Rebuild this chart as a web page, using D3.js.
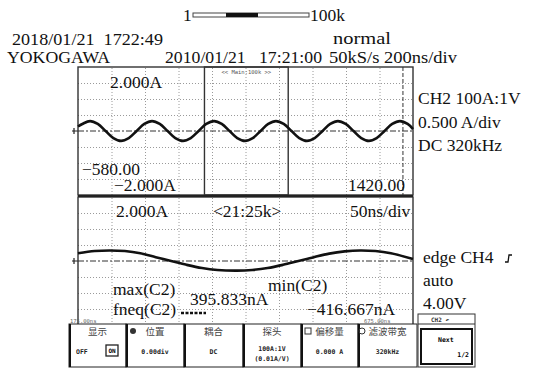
<!DOCTYPE html>
<html>
<head>
<meta charset="utf-8">
<script src="https://cdn.jsdelivr.net/npm/d3@7"></script>
<style>
  html, body { margin: 0; padding: 0; background: #fff; }
  svg { display: block; }
  text { white-space: pre; }
</style>
</head>
<body>
<div id="chart"></div>
<script>
// Main window waveform (CH2), time in ns, current in A
const mainTime = [-580, -554, -508, -462, -415, -369, -323, -277, -230, -184, -138, -92, -45, 1, 47, 93, 140, 186, 232, 278, 325, 371, 417, 463, 510, 556, 602, 648, 695, 741, 787, 833, 880, 926, 972, 1018, 1065, 1111, 1157, 1203, 1250, 1296, 1342, 1388, 1420];
const mainCurrent = [0.14, 0.22, 0.31, 0.22, 0.0, -0.22, -0.31, -0.22, 0.0, 0.22, 0.31, 0.22, 0.0, -0.22, -0.31, -0.22, 0.0, 0.22, 0.31, 0.22, 0.0, -0.22, -0.31, -0.22, 0.0, 0.22, 0.31, 0.22, 0.0, -0.22, -0.31, -0.22, 0.0, 0.22, 0.31, 0.22, 0.0, -0.22, -0.31, -0.22, 0.0, 0.22, 0.31, 0.22, 0.06];

// Zoom window waveform
const zoomTime = [175, 200, 222, 245, 268, 291, 314, 337, 360, 383, 412, 435, 458, 481, 504, 527, 550, 573, 596, 619, 642, 675];
const zoomCurrent = [0.24, 0.31, 0.33, 0.31, 0.24, 0.12, 0.0, -0.12, -0.22, -0.28, -0.30, -0.28, -0.22, -0.12, 0.0, 0.12, 0.23, 0.30, 0.33, 0.31, 0.24, 0.06];

const mainRange = [-580, 1420];     // 200 ns/div
const zoomRange = [175, 675];       // 50 ns/div
const ampRange = [-2, 2];           // 0.5 A/div
const cursorTime = 1360;

const softKeys = [
  { title: '显示', lines: ['OFF'] },
  { title: '位置', lines: ['0.00div'] },
  { title: '耦合', lines: ['DC'] },
  { title: '探头', lines: ['100A:1V', '(0.01A/V)'] },
  { title: '偏移量', lines: ['0.000 A'] },
  { title: '滤波带宽', lines: ['320kHz'] }
];

const W = 534, H = 370;
const serif = '"Liberation Serif", "DejaVu Serif", serif';
const mono = '"DejaVu Sans Mono", monospace';
const ink = '#111';

const svg = d3.select('#chart').append('svg')
  .attr('width', W).attr('height', H)
  .attr('viewBox', `0 0 ${W} ${H}`);

svg.append('rect').attr('width', W).attr('height', H).attr('fill', '#fff');

const plotLeft = 78, plotRight = 413;
const topPane = { y0: 67, y1: 195 };
const botPane = { y0: 197, y1: 325 };

const xMain = d3.scaleLinear().domain(mainRange).range([plotLeft, plotRight]);
const xZoom = d3.scaleLinear().domain(zoomRange).range([plotLeft, plotRight]);
const yTop = d3.scaleLinear().domain(ampRange).range([topPane.y1, topPane.y0]);
const yBot = d3.scaleLinear().domain(ampRange).range([botPane.y1, botPane.y0]);

function drawPane(x, y, pane) {
  const g = svg.append('g');
  const h = pane.y1 - pane.y0;
  const w = plotRight - plotLeft;
  const step = (x.domain()[1] - x.domain()[0]) / 10;

  // vertical dotted grid
  g.append('g')
    .attr('transform', `translate(0,${pane.y1})`)
    .call(d3.axisBottom(x).tickValues(d3.range(1, 10).map(i => x.domain()[0] + i * step))
      .tickSize(-h).tickFormat(''))
    .call(s => s.select('.domain').remove())
    .call(s => s.selectAll('line').attr('stroke', '#9a9a9a').attr('stroke-dasharray', '1,2'));

  // horizontal dotted grid
  g.append('g')
    .attr('transform', `translate(${plotLeft},0)`)
    .call(d3.axisLeft(y).tickValues([-1.5, -1, -0.5, 0.5, 1, 1.5]).tickSize(-w).tickFormat(''))
    .call(s => s.select('.domain').remove())
    .call(s => s.selectAll('line').attr('stroke', '#9a9a9a').attr('stroke-dasharray', '1,2'));

  // centre line
  g.append('line')
    .attr('x1', plotLeft).attr('x2', plotRight)
    .attr('y1', y(0)).attr('y2', y(0))
    .attr('stroke', '#333').attr('stroke-width', 1)
    .attr('stroke-dasharray', '6,2,2,2');

  // ground marker
  g.append('path')
    .attr('d', `M${plotLeft - 6},${y(0)}h6M${plotLeft - 4},${y(0) - 3}v6`)
    .attr('stroke', '#222').attr('stroke-width', 1.2);

  g.append('rect')
    .attr('x', plotLeft).attr('y', pane.y0)
    .attr('width', w).attr('height', h)
    .attr('fill', 'none').attr('stroke', '#333').attr('stroke-width', 1.4);
  return g;
}

const topG = drawPane(xMain, yTop, topPane);
const botG = drawPane(xZoom, yBot, botPane);

// zoom box in the main window
topG.append('rect')
  .attr('x', xMain(zoomRange[0])).attr('y', topPane.y0)
  .attr('width', xMain(zoomRange[1]) - xMain(zoomRange[0]))
  .attr('height', topPane.y1 - topPane.y0)
  .attr('fill', 'none').attr('stroke', '#333').attr('stroke-width', 1.4);
topG.append('text')
  .attr('x', (xMain(zoomRange[0]) + xMain(zoomRange[1])) / 2).attr('y', 74)
  .attr('text-anchor', 'middle').attr('font-family', mono)
  .attr('font-size', 5.5).attr('fill', '#555').text('<< Main:100k >>');

// cursor
topG.append('line')
  .attr('x1', xMain(cursorTime)).attr('x2', xMain(cursorTime))
  .attr('y1', topPane.y0).attr('y2', topPane.y1)
  .attr('stroke', '#333').attr('stroke-width', 1).attr('stroke-dasharray', '4,2');

// waveforms
const mainLine = d3.line().x(d => xMain(d[0])).y(d => yTop(d[1])).curve(d3.curveCatmullRom);
const zoomLine = d3.line().x(d => xZoom(d[0])).y(d => yBot(d[1])).curve(d3.curveCatmullRom);

topG.append('path')
  .datum(d3.zip(mainTime, mainCurrent))
  .attr('d', mainLine)
  .attr('fill', 'none').attr('stroke', ink).attr('stroke-width', 2.6);
botG.append('path')
  .datum(d3.zip(zoomTime, zoomCurrent))
  .attr('d', zoomLine)
  .attr('fill', 'none').attr('stroke', ink).attr('stroke-width', 2.6);

// separator between panes
svg.append('line').attr('x1', plotLeft).attr('x2', plotRight)
  .attr('y1', 196).attr('y2', 196).attr('stroke', '#222').attr('stroke-width', 2);

// text helper
function txt(x, y, s, size = 17.5, anchor = 'start') {
  return svg.append('text').attr('x', x).attr('y', y)
    .attr('font-family', serif).attr('font-size', size)
    .attr('text-anchor', anchor).attr('fill', ink).text(s);
}
function fit(sel, len) {
  return sel.attr('textLength', len).attr('lengthAdjust', 'spacingAndGlyphs');
}

// header
fit(txt(12, 45, '2018/01/21  1722:49', 16.5), 151);
fit(txt(7, 63, 'YOKOGAWA', 16.5), 103);
fit(txt(165, 63, '2010/01/21   17:21:00', 16.5), 157);
fit(txt(333, 44, 'normal', 16.5), 58);
fit(txt(329, 63, '50kS/s 200ns/div', 16.5), 128);

// record length bar
txt(183, 21, '1', 17.5);
svg.append('rect').attr('x', 193).attr('y', 13).attr('width', 116).attr('height', 4)
  .attr('fill', '#fff').attr('stroke', '#444').attr('stroke-width', 1);
svg.append('rect').attr('x', 226).attr('y', 13).attr('width', 32).attr('height', 4).attr('fill', '#111');
txt(310, 21, '100k', 17.5);

// main pane labels
txt(110, 88, '2.000A');
txt(82, 175, '\u2212580.00');
txt(114, 191, '\u22122.000A');
txt(348, 191, '1420.00');

// right-hand channel info
txt(418, 104, 'CH2 100A:1V');
txt(418, 128, '0.500 A/div');
txt(418, 151, 'DC 320kHz');

// zoom pane labels
txt(116, 217, '2.000A');
txt(213, 217, '<21:25k>');
txt(350, 217, '50ns/div');
txt(113, 295, 'max(C2)');
txt(113, 315, 'fneq(C2)');
txt(190, 305, '395.833nA');
txt(268, 291, 'min(C2)');
txt(307, 315, '\u2212416.667nA');
svg.append('line').attr('x1', 181).attr('x2', 206).attr('y1', 313).attr('y2', 313)
  .attr('stroke', '#111').attr('stroke-width', 2.5).attr('stroke-dasharray', '3,1.5');

// trigger info
txt(423, 263, 'edge CH4');
svg.append('path').attr('d', 'M505,262 l3,0 l1,-7 l3,0')
  .attr('fill', 'none').attr('stroke', '#111').attr('stroke-width', 1.3);
txt(423, 286, 'auto');
txt(423, 309, '4.00V');

// small time labels
svg.append('text').attr('x', 70).attr('y', 323).attr('font-family', mono)
  .attr('font-size', 5.5).attr('fill', '#666').text('175.00ns');
svg.append('text').attr('x', 364).attr('y', 323).attr('font-family', mono)
  .attr('font-size', 5.5).attr('fill', '#666').text('675.00ns');

// soft keys
const keyEdges = [69, 126, 184, 243, 301, 358, 417];
const keyTop = 324, keyBottom = 367;
const keys = svg.append('g');
softKeys.forEach((k, i) => {
  const x0 = keyEdges[i], x1 = keyEdges[i + 1];
  const cx = (x0 + x1) / 2;
  keys.append('rect').attr('x', x0).attr('y', keyTop).attr('width', x1 - x0).attr('height', keyBottom - keyTop)
    .attr('fill', '#fff').attr('stroke', '#222').attr('stroke-width', 1);
  keys.append('line').attr('x1', x0 + 1).attr('x2', x0 + 1).attr('y1', keyTop).attr('y2', keyBottom)
    .attr('stroke', '#111').attr('stroke-width', 2);
  keys.append('text').attr('x', cx).attr('y', 335).attr('text-anchor', 'middle')
    .attr('font-family', '"Noto Sans CJK SC", sans-serif').attr('font-size', 9.5)
    .attr('fill', '#444').text(k.title);
  k.lines.forEach((l, j) => {
    keys.append('text').attr('x', i === 0 ? x0 + 7 : cx).attr('y', k.lines.length > 1 ? 351 + j * 10 : 354)
      .attr('text-anchor', i === 0 ? 'start' : 'middle')
      .attr('font-family', mono).attr('font-size', 6.5).attr('font-weight', 'bold')
      .attr('fill', '#222').text(l);
  });
});
// ON indicator and icons
keys.append('rect').attr('x', 106).attr('y', 345).attr('width', 12).attr('height', 11)
  .attr('fill', '#fff').attr('stroke', '#222').attr('stroke-width', 1.3);
keys.append('text').attr('x', 112).attr('y', 353).attr('text-anchor', 'middle')
  .attr('font-family', mono).attr('font-size', 6).attr('font-weight', 'bold').text('ON');
keys.append('circle').attr('cx', 133).attr('cy', 331).attr('r', 3).attr('fill', '#333');
keys.append('rect').attr('x', 305).attr('y', 328).attr('width', 6).attr('height', 6)
  .attr('fill', 'none').attr('stroke', '#333');
keys.append('circle').attr('cx', 362).attr('cy', 331).attr('r', 3)
  .attr('fill', 'none').attr('stroke', '#333');

// Next key with CH2 tab
keys.append('rect').attr('x', 418).attr('y', 314).attr('width', 57).attr('height', 53)
  .attr('fill', '#fff').attr('stroke', '#333').attr('stroke-width', 1);
keys.append('line').attr('x1', 418).attr('x2', 475).attr('y1', 324).attr('y2', 324)
  .attr('stroke', '#333');
keys.append('text').attr('x', 440).attr('y', 322).attr('text-anchor', 'middle')
  .attr('font-family', mono).attr('font-size', 6).attr('font-weight', 'bold').attr('fill', '#333').text('CH2 \u21B6');
keys.append('rect').attr('x', 421).attr('y', 329).attr('width', 51).attr('height', 35)
  .attr('fill', 'none').attr('stroke', '#111').attr('stroke-width', 2);
keys.append('text').attr('x', 438).attr('y', 342)
  .attr('font-family', mono).attr('font-size', 6.5).attr('font-weight', 'bold').text('Next');
keys.append('text').attr('x', 469).attr('y', 357).attr('text-anchor', 'end')
  .attr('font-family', mono).attr('font-size', 6.5).attr('font-weight', 'bold').text('1/2');
</script>
</body>
</html>
